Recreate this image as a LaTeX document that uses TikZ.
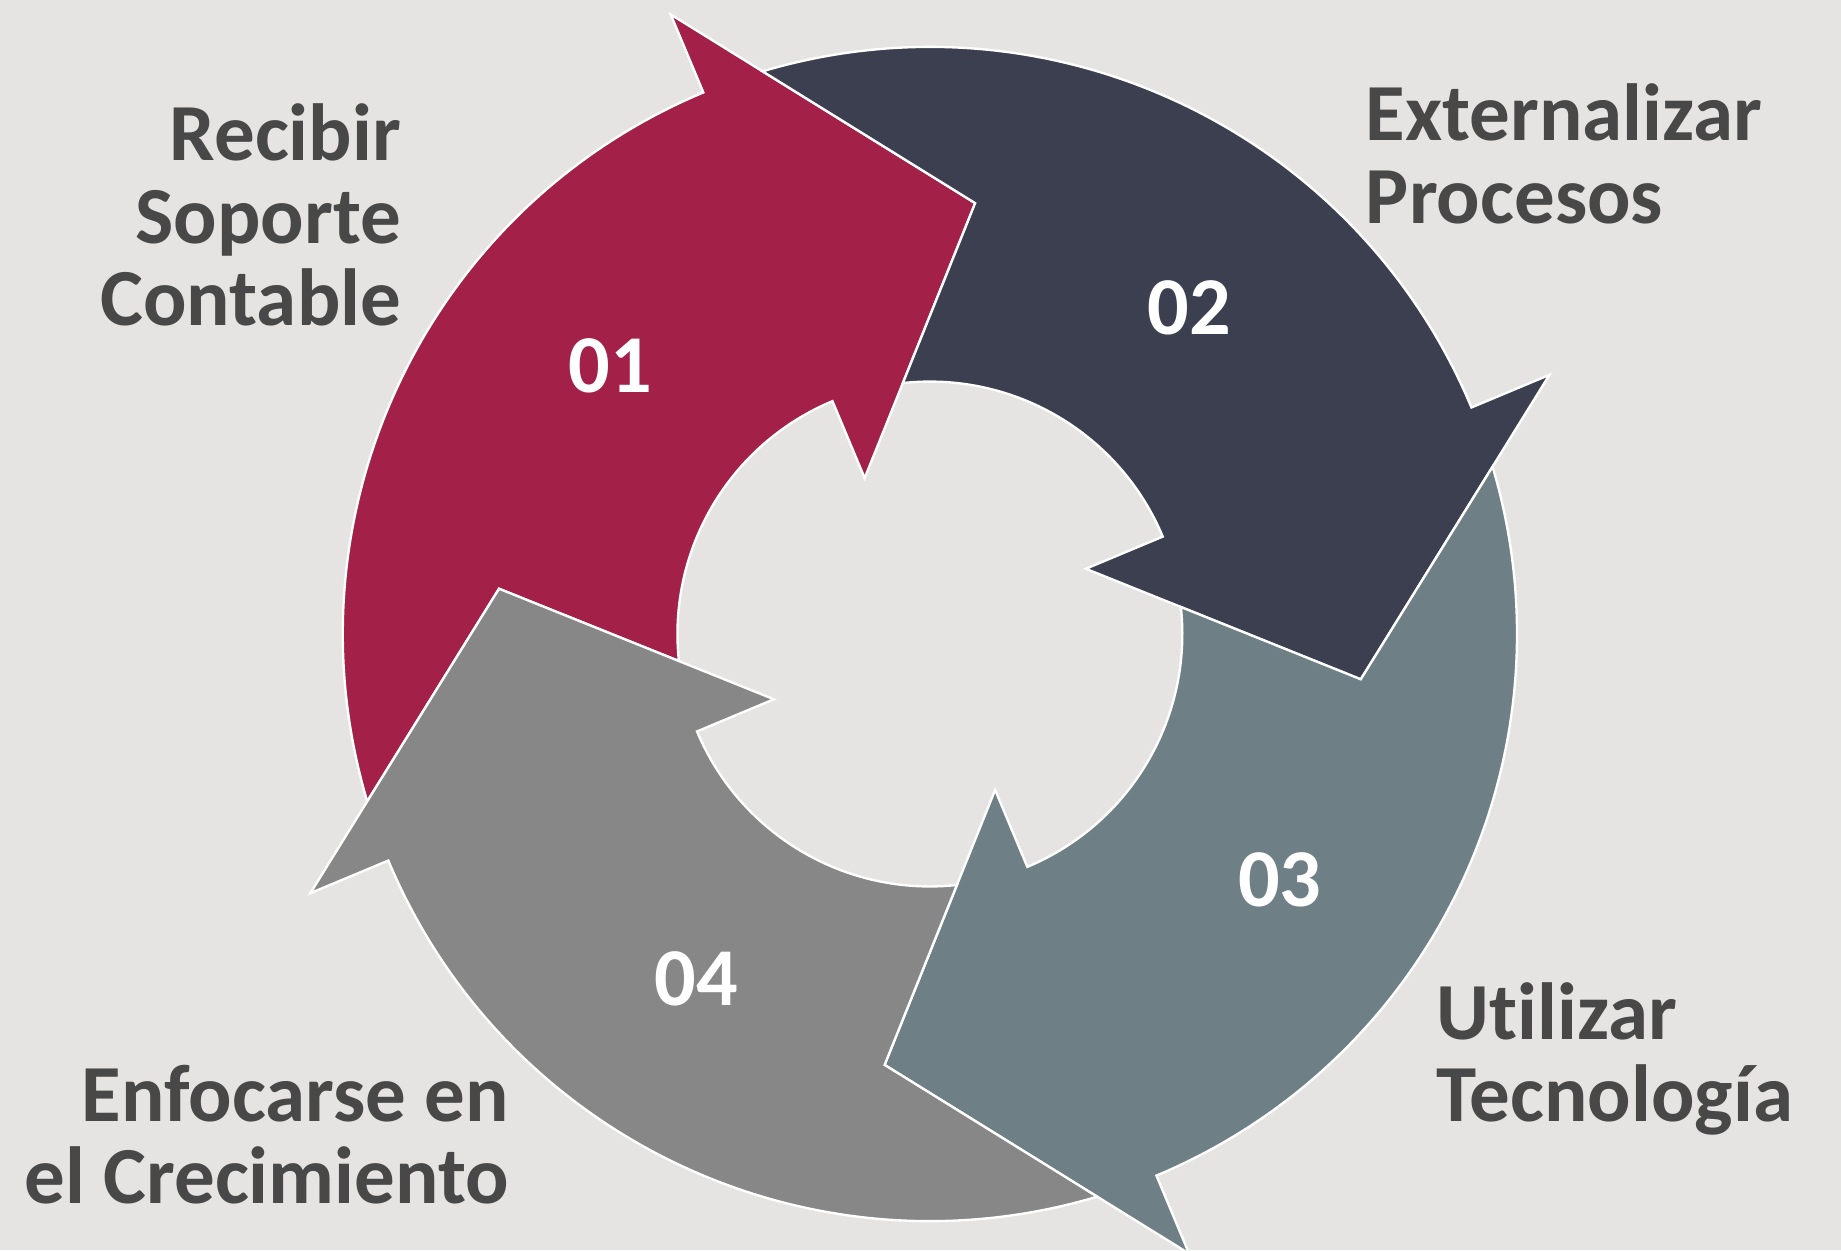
\documentclass[tikz,border=0pt]{standalone}
\usepackage{fontspec}
\setmainfont{Carlito}[Ligatures={NoCommon}]
\definecolor{bgc}{HTML}{E5E4E2}
\definecolor{c1}{HTML}{A32049}
\definecolor{c2}{HTML}{3C3F50}
\definecolor{c3}{HTML}{6E8086}
\definecolor{c4}{HTML}{878787}
\definecolor{txt}{HTML}{484848}
\begin{document}
\begin{tikzpicture}[x=0.5pt,y=0.5pt,
  seg/.style={draw=white,line width=1pt,line join=miter},
  num/.style={text=white,font=\fontsize{35pt}{40pt}\selectfont\bfseries,inner sep=0pt},
  lbl/.style={text=txt,font=\fontsize{34.5pt}{35pt}\selectfont\bfseries,inner sep=0pt}]
\fill[bgc] (-792,-525) rectangle (776,540);
\useasboundingbox (-792,-525) rectangle (776,540);
\newcommand{\arrowshape}[2]{%
  \begin{scope}[rotate=#1]
  \path[seg,fill=#2] (196.56:500) arc[start angle=196.56, end angle=112.7, radius=500]
    -- (112.7:572) -- (84:369) -- (112.7:144) -- (112.7:215)
    arc[start angle=112.7, end angle=186.14, radius=215] -- (174:369) -- cycle;
  \end{scope}}
\arrowshape{0}{c1}
\arrowshape{-90}{c2}
\arrowshape{-180}{c3}
\arrowshape{90}{c4}
\node[num] (n1) at (-272,228) {01};
\node[num] (n2) at (221,278) {02};
\node[num] (n3) at (298,-209) {03};
\node[num] (n4) at (-199,-294) {04};
\node[lbl,align=right,anchor=base east] (t1) at (-450,263) {Recibir\\Soporte\\Contable};
\node[lbl,align=left,anchor=base west] (t2) at (371,350) {Externalizar\\Procesos};
\node[lbl,align=left,anchor=base west] (t3) at (431,-415.6) {Utilizar\\Tecnología};
\node[lbl,align=right,anchor=base east] (t4) at (-358,-485) {Enfocarse en\\el Crecimiento};
\end{tikzpicture}
\end{document}
